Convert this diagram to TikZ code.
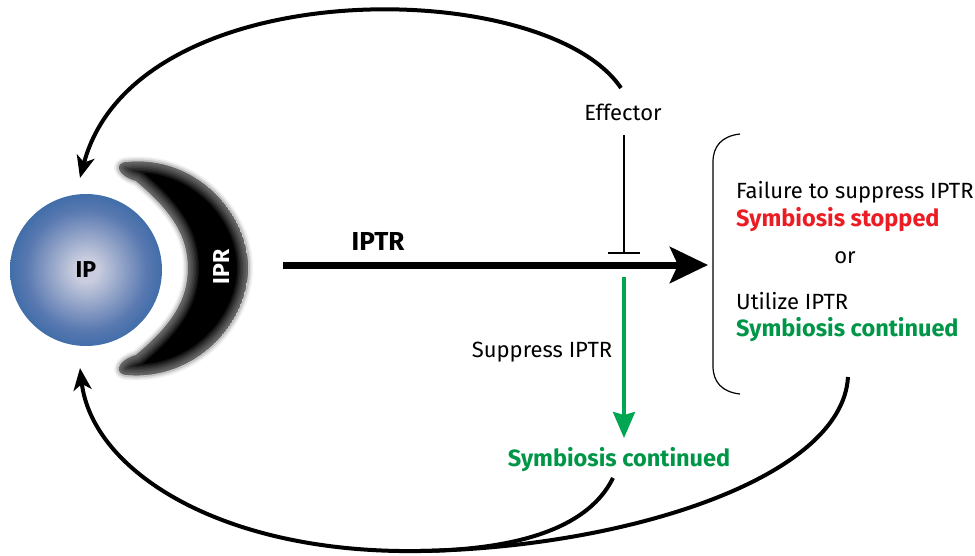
\documentclass[tikz,border=0pt]{standalone}
\usepackage{fontspec}
\setmainfont{Fira Sans}
\usetikzlibrary{arrows.meta}
\definecolor{ipblue}{RGB}{22,90,156}
\definecolor{ipmid}{RGB}{88,120,176}
\definecolor{iplite}{RGB}{200,204,222}
\definecolor{stopred}{RGB}{236,28,36}
\definecolor{contgreen}{RGB}{0,150,72}
\definecolor{arrgreen}{RGB}{0,166,81}
\pgfdeclareradialshading{ipshade}{\pgfpoint{0bp}{0bp}}{color(0bp)=(iplite); color(4bp)=(iplite); color(20bp)=(ipmid); color(35bp)=(ipblue); color(50bp)=(ipblue)}
\tikzset{
  lbl/.style={inner sep=0pt, font=\fontsize{22}{26}\selectfont},
  lblb/.style={inner sep=0pt, font=\fontsize{23.5}{28}\selectfont\bfseries},
  curve/.style={line width=4pt, -{Stealth[length=22pt,width=18pt,inset=6pt]}},
  plaincurve/.style={line width=4pt},
}
\def\crescentpath{(128,162) .. controls (195,156) and (248,212) .. (248,268)
    .. controls (248,324) and (195,380) .. (128,375)
    .. controls (114,375) and (116,361) .. (136,355)
    .. controls (172,325) and (188,300) .. (188,268)
    .. controls (188,236) and (172,211) .. (136,181)
    .. controls (116,175) and (114,162) .. (128,162) -- cycle}
\begin{document}
\begin{tikzpicture}[x=1pt,y=-1pt]
\useasboundingbox (0,0) rectangle (975,555);
% IP circle
\node[circle, minimum size=152pt, inner sep=0pt, shading=ipshade, font=\fontsize{23}{27}\selectfont\bfseries] (ip) at (86,270) {IP};
% IPR crescent (soft edge)
\foreach \w/\o in {10/0.05,7/0.08,4/0.12}{
  \draw[line width=\w pt, line join=round, opacity=\o] \crescentpath;
}
\begin{scope}
\clip \crescentpath;
\fill[black] \crescentpath;
\foreach \w in {22,19,16,13,10,7,4}{
  \draw[white, opacity=0.07, line width=\w pt, line join=round] \crescentpath;
}
\end{scope}
\node[rotate=90, white, inner sep=0pt, font=\fontsize{23}{27}\selectfont\bfseries] (ipr) at (222,267) {IPR};
% main arrow
\coordinate (ms) at (283,265);
\coordinate (me) at (708,265);
\draw[line width=7pt, -{Stealth[length=38pt,width=36pt,inset=8pt]}] (ms) -- (me);
\node[inner sep=0pt, font=\fontsize{26}{30}\selectfont\bfseries] (iptr) at (378,241) {IPTR};
% effector
\node[lbl] (effector) at (623,112) {Effector};
\coordinate (efbot) at (624,135);
\coordinate (tb) at (624,254);
\draw[line width=1.4pt, -{Bar[width=32pt,line width=1.6pt]}] (efbot) -- (tb);
% suppress
\coordinate (gs) at (624,277);
\coordinate (ge) at (624,438);
\draw[arrgreen, line width=3.5pt, -{Stealth[length=26pt,width=22pt,inset=3pt]}] (gs) -- (ge);
\node[lbl] (supp) at (542,352) {Suppress IPTR};
\node[lblb, contgreen] (cont2) at (619,460) {Symbiosis continued};
% bracket
\coordinate (brtop) at (740,134);
\coordinate (brbot) at (740,394);
\draw[line width=1.2pt] (brtop) .. controls (722,136) and (713,146) .. (713,162) -- (713,366) .. controls (713,382) and (722,392) .. (brbot);
\node[lbl, anchor=west] (fail) at (736,192) {Failure to suppress IPTR};
\node[lblb, stopred, anchor=west] (stop) at (736,220) {Symbiosis stopped};
\node[lbl] (or) at (845,258) {or};
\node[lbl, anchor=west] (util) at (736,301) {Utilize IPTR};
\node[lblb, contgreen, anchor=west] (cont1) at (736,330) {Symbiosis continued};
% top feedback arrow
\coordinate (ts) at (621,88);
\coordinate (te) at (80,178);
\draw[curve] (ts) .. controls (545,-25) and (135,-30) .. (te);
% bottom feedback arrows
\coordinate (bs) at (848,377);
\coordinate (mg) at (420,551);
\coordinate (be) at (80,368);
\coordinate (cs) at (613,478);
\draw[plaincurve] (bs) .. controls (842,480) and (620,548) .. (mg);
\draw[plaincurve] (cs) .. controls (585,535) and (500,550) .. (mg);
\draw[curve] (mg) .. controls (220,554) and (92,470) .. (be);
\end{tikzpicture}
\end{document}
